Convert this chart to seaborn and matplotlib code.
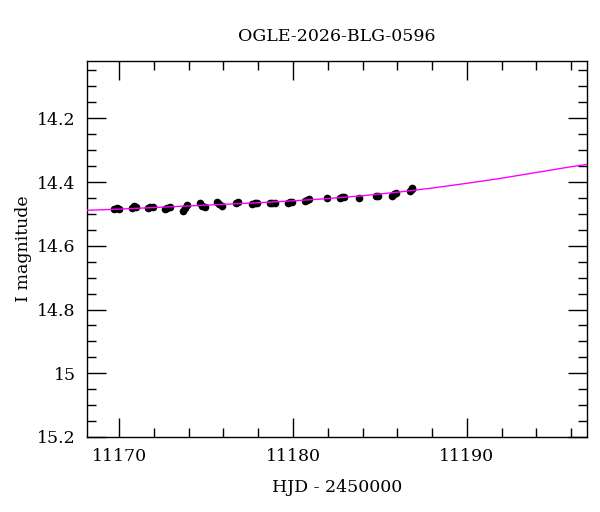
import numpy as np
import pandas as pd
import seaborn as sns
import matplotlib.pyplot as plt
from matplotlib.ticker import MultipleLocator

# OGLE photometry (HJD - 2450000, I mag, error)
hjd = [
    11169.70, 11169.85, 11169.98,
    11170.72, 11170.86, 11170.98,
    11171.65, 11171.80, 11171.92,
    11172.65, 11172.78, 11172.90,
    11173.68, 11173.80, 11173.92,
    11174.66, 11174.78, 11174.92,
    11175.64, 11175.76, 11175.90,
    11176.72, 11176.84,
    11177.66, 11177.80, 11177.92,
    11178.66, 11178.80, 11178.94,
    11179.70, 11179.84, 11179.96,
    11180.70, 11180.82, 11180.94,
    11181.95,
    11182.72, 11182.84, 11182.96,
    11183.80,
    11184.80, 11184.90,
    11185.68, 11185.80, 11185.92,
    11186.72, 11186.82, 11186.86,
]
mag = [
    14.485, 14.482, 14.486,
    14.480, 14.476, 14.478,
    14.481, 14.479, 14.478,
    14.486, 14.481, 14.478,
    14.490, 14.480, 14.473,
    14.466, 14.474, 14.478,
    14.464, 14.470, 14.474,
    14.466, 14.464,
    14.470, 14.467, 14.466,
    14.467, 14.466, 14.465,
    14.466, 14.463, 14.462,
    14.459, 14.456, 14.454,
    14.451,
    14.450, 14.447, 14.447,
    14.451,
    14.444, 14.443,
    14.444, 14.439, 14.435,
    14.429, 14.422, 14.419,
]
err = [
    0.004, 0.004, 0.004,
    0.004, 0.005, 0.004,
    0.004, 0.004, 0.005,
    0.005, 0.004, 0.004,
    0.006, 0.005, 0.005,
    0.005, 0.004, 0.005,
    0.005, 0.004, 0.005,
    0.004, 0.004,
    0.004, 0.004, 0.004,
    0.004, 0.004, 0.004,
    0.004, 0.004, 0.004,
    0.004, 0.004, 0.004,
    0.004,
    0.004, 0.004, 0.004,
    0.004,
    0.004, 0.004,
    0.005, 0.005, 0.005,
    0.006, 0.007, 0.007,
]

# model light curve
model_t = [11168, 11170, 11172, 11174, 11176, 11178, 11180, 11182,
           11184, 11186, 11188, 11190, 11192, 11194, 11196, 11197]
model_m = [14.489, 14.485, 14.480, 14.475, 14.470, 14.465, 14.459, 14.452,
           14.443, 14.432, 14.419, 14.404, 14.388, 14.370, 14.352, 14.344]

sns.set_theme(style="ticks")
plt.rcParams["font.family"] = ["DejaVu Serif"]
plt.rcParams["text.color"] = "black"
plt.rcParams["axes.labelcolor"] = "black"
plt.rcParams["xtick.labelcolor"] = "black"
plt.rcParams["ytick.labelcolor"] = "black"

fig = plt.figure(figsize=(6, 5.12), dpi=100)
ax = fig.add_axes([0.145, 0.1465, 0.833, 0.7345])

sns.lineplot(x=model_t, y=model_m, ax=ax, color="#ff00ff", lw=1.0, zorder=3)
ax.errorbar(hjd, mag, yerr=err, fmt="o", color="black", ms=4.5, elinewidth=2,
            capsize=0, zorder=2)

ax.set_xlim(11168.15, 11196.9)
ax.set_ylim(15.2, 14.02)
ax.xaxis.set_major_locator(MultipleLocator(10))
ax.xaxis.set_minor_locator(MultipleLocator(2))
ax.yaxis.set_major_locator(MultipleLocator(0.2))
ax.yaxis.set_minor_locator(MultipleLocator(0.05))
ax.yaxis.set_major_formatter(plt.FuncFormatter(lambda v, p: f"{v:g}"))
ax.tick_params(which="both", direction="in", top=True, right=True,
               color="black", width=1.0, labelsize=12.5, pad=8)
ax.tick_params(which="major", length=13.5)
ax.tick_params(which="minor", length=6.5)
for s in ax.spines.values():
    s.set_color("black")
    s.set_linewidth(1.0)

ax.set_xlabel("HJD - 2450000", fontsize=12.5, labelpad=10)
ax.set_ylabel("I magnitude", fontsize=12.5, labelpad=4)
ax.set_title("OGLE-2026-BLG-0596", fontsize=12.5, pad=14)

fig.savefig("out.png", dpi=100)
